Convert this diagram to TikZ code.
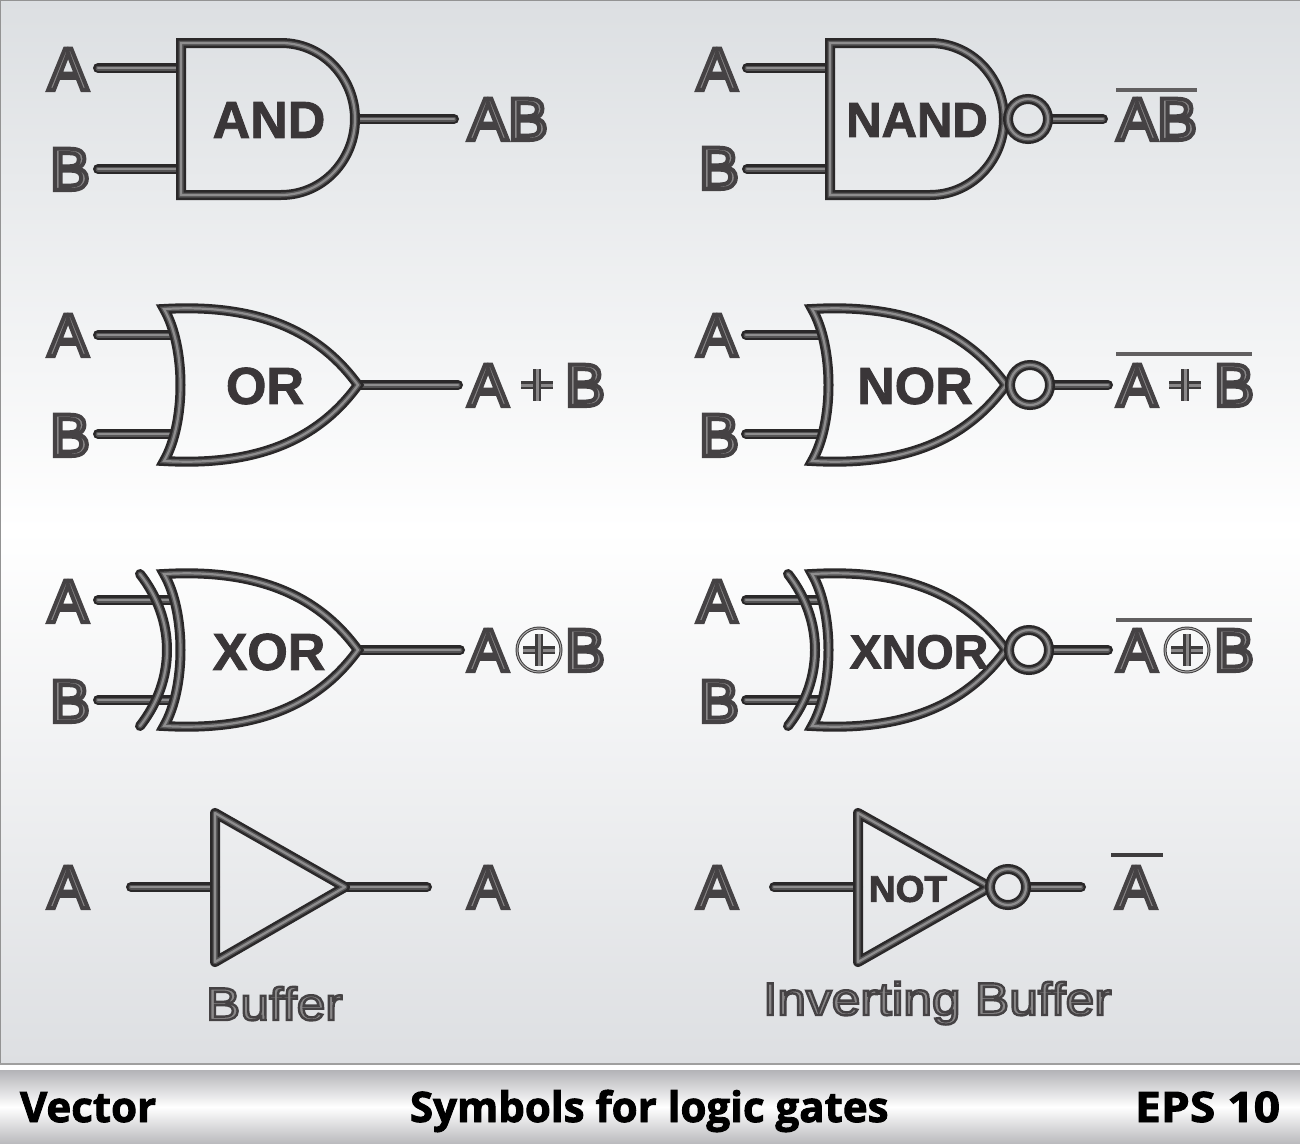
\documentclass[tikz,border=0pt]{standalone}
\usepackage{fontspec}
\setmainfont{Liberation Sans}
\newfontfamily\footfont{Open Sans}
\newfontfamily\footwide[FakeStretch=1.1]{Open Sans}
\newfontfamily\capfont[FakeStretch=1.12]{Liberation Sans}
\definecolor{pipedark}{HTML}{2A2829}
\definecolor{pipemid}{HTML}{555455}
\definecolor{pipelight}{HTML}{8E8D8E}
\definecolor{letterfill}{HTML}{8A8889}
\definecolor{letterline}{HTML}{3E3C3D}
\definecolor{gatetext}{HTML}{3A3638}
\definecolor{panelA}{HTML}{DCDFE2}
\definecolor{panelB}{HTML}{DDDFE2}
\definecolor{footA}{HTML}{B3B3B7}
\definecolor{footB}{HTML}{BBBBBE}
% real text with a stroked outline: #1 outline width in pt
\newcommand{\strokedtext}[2]{\textcolor{letterfill}{\special{pdf:code q 2 Tr #1 w 0.27 0.26 0.265 RG}#2\special{pdf:code Q}}}
\newcommand{\pipeletter}[1]{\strokedtext{4}{#1}}
\newcommand{\thinletter}[1]{\strokedtext{2.4}{#1}}
\newcommand{\heavytext}[1]{\special{pdf:code q 2 Tr 0.9 w}#1\special{pdf:code Q}}
\tikzset{
  x=1pt,y=-1pt,
  pipe/.style={draw=pipedark,line width=10pt,line cap=round,line join=miter,miter limit=12,
    postaction={draw=pipemid,line width=5pt},
    postaction={draw=pipelight,line width=2.2pt}},
  bodypipe/.style={pipe,line cap=butt},
  roundpipe/.style={pipe,line join=round},
  sig/.style={inner sep=0pt,outer sep=0pt,anchor=base west,font=\fontsize{60}{60}\selectfont},
  gatelabel/.style={inner sep=0pt,outer sep=0pt,text=gatetext,font=\fontsize{52}{52}\selectfont\bfseries},
  caption/.style={inner sep=0pt,outer sep=0pt,anchor=base west,font=\fontsize{46}{46}\selectfont\capfont},
  foot/.style={inner sep=0pt,outer sep=0pt,anchor=base west,text=black,font=\fontsize{42}{42}\selectfont\footfont\bfseries},
  footw/.style={foot,font=\fontsize{42}{42}\selectfont\footwide\bfseries},
  overbar/.style={draw=letterfill!70!black,line width=4pt},
  signbar/.style={draw=letterline,line width=8pt,postaction={draw=letterfill,line width=3pt}},
  xorring/.style={draw=letterline,line width=3pt,postaction={draw=letterfill!70!white,line width=1pt}},
}
% AND body: #1 x of the flat side
\newcommand{\andbody}[1]{%
  \draw[bodypipe] (#1+0,43) -- (#1+100,43) .. controls (#1+142,43) and (#1+174,78) .. (#1+174,119)
     .. controls (#1+174,160) and (#1+142,195) .. (#1+100,195) -- (#1+0,195) -- cycle;}
% OR body: #1 x of the centre of the tips, #2 centre y, #3 apex x offset
\newcommand{\orbody}[3]{%
  \draw[bodypipe] (#1,#2-76) .. controls (#1+#3*0.53,#2-82) and (#1+#3*0.82,#2-48) .. (#1+#3,#2)
     .. controls (#1+#3*0.82,#2+48) and (#1+#3*0.53,#2+82) .. (#1,#2+76)
     .. controls (#1+22,#2+38) and (#1+22,#2-38) .. (#1,#2-76) -- cycle;}
\newcommand{\xorarc}[2]{%
  \draw[pipe] (#1,#2-76) .. controls (#1+36,#2-30) and (#1+36,#2+30) .. (#1,#2+76);}
\begin{document}
\begin{tikzpicture}
\useasboundingbox (0,0) rectangle (1300,1143);
% backgrounds
\fill[white] (0,0) rectangle (1300,1143);
\path[top color=panelA,bottom color=white] (0,0) rectangle (1300,530);
\path[top color=white,bottom color=panelB] (0,530) rectangle (1300,1064);
\draw[gray!85,line width=1.5pt] (0.7,1064) -- (0.7,0.7) -- (1300,0.7);
\draw[gray!75,line width=2pt] (0,1064) -- (1300,1064);
\path[top color=footA,bottom color=white] (0,1070) rectangle (1300,1107);
\path[top color=white,bottom color=footB] (0,1107) rectangle (1300,1143);

% ---------- AND ----------
\coordinate (andA) at (98,68); \coordinate (andAi) at (181,68);
\coordinate (andB) at (98,169); \coordinate (andBi) at (181,169);
\coordinate (andO) at (356,119); \coordinate (andOe) at (454,119);
\draw[pipe] (andA) -- (andAi); \draw[pipe] (andB) -- (andBi); \draw[pipe] (andO) -- (andOe);
\andbody{181}
\node[gatelabel] (andT) at (269,120) {\heavytext{AND}};
\node[sig] (andLa) at (48,90) {\pipeletter{A}};
\node[sig] (andLb) at (50,190) {\pipeletter{B}};
\node[sig] (andLo) at (468,140) {\pipeletter{AB}};

% ---------- NAND ----------
\coordinate (nandA) at (747,68); \coordinate (nandAi) at (830,68);
\coordinate (nandB) at (747,169); \coordinate (nandBi) at (830,169);
\coordinate (nandOe) at (1103,119);
\node[circle,minimum size=40pt,inner sep=0pt,outer sep=0pt] (nandC) at (1028,119) {};
\draw[pipe] (nandA) -- (nandAi); \draw[pipe] (nandB) -- (nandBi); \draw[pipe] (nandC.east) -- (nandOe);
\andbody{830}
\draw[pipe] (nandC) circle[radius=20];
\node[gatelabel,font=\fontsize{49}{49}\selectfont\bfseries] (nandT) at (917,120) {\heavytext{NAND}};
\node[sig] (nandLa) at (697,90) {\pipeletter{A}};
\node[sig] (nandLb) at (699,189) {\pipeletter{B}};
\node[sig] (nandLo) at (1117,140) {\pipeletter{AB}};
\coordinate (nandB1) at (1116,90); \coordinate (nandB2) at (1197,90);
\draw[overbar] (nandB1) -- (nandB2);

% ---------- OR ----------
\coordinate (orA) at (98,335); \coordinate (orAi) at (172,335);
\coordinate (orB) at (98,434); \coordinate (orBi) at (172,434);
\coordinate (orO) at (358,385); \coordinate (orOe) at (458,385);
\draw[pipe] (orA) -- (orAi); \draw[pipe] (orB) -- (orBi); \draw[pipe] (orO) -- (orOe);
\orbody{164}{385}{194}
\node[gatelabel] (orT) at (265,386) {\heavytext{OR}};
\node[sig] (orLa) at (48,356) {\pipeletter{A}};
\node[sig] (orLb) at (50,456) {\pipeletter{B}};
\node[sig] (orLo1) at (468,406) {\pipeletter{A}};
\node[sig] (orLo2) at (565,406) {\pipeletter{B}};
\coordinate (orP1) at (521,385); \coordinate (orP2) at (553,385);
\coordinate (orP3) at (537,369); \coordinate (orP4) at (537,401);
\draw[signbar] (orP1) -- (orP2); \draw[signbar] (orP3) -- (orP4);

% ---------- NOR ----------
\coordinate (norA) at (746,335); \coordinate (norAi) at (820,335);
\coordinate (norB) at (746,434); \coordinate (norBi) at (820,434);
\coordinate (norOe) at (1108,385);
\node[circle,minimum size=40pt,inner sep=0pt,outer sep=0pt] (norC) at (1030,385) {};
\draw[pipe] (norA) -- (norAi); \draw[pipe] (norB) -- (norBi); \draw[pipe] (norC.east) -- (norOe);
\orbody{812}{385}{194}
\draw[pipe] (norC) circle[radius=20];
\node[gatelabel] (norT) at (915,386) {\heavytext{NOR}};
\node[sig] (norLa) at (697,356) {\pipeletter{A}};
\node[sig] (norLb) at (699,456) {\pipeletter{B}};
\node[sig] (norLo1) at (1117,406) {\pipeletter{A}};
\node[sig] (norLo2) at (1214,406) {\pipeletter{B}};
\coordinate (norP1) at (1169,385); \coordinate (norP2) at (1201,385);
\coordinate (norP3) at (1185,369); \coordinate (norP4) at (1185,401);
\draw[signbar] (norP1) -- (norP2); \draw[signbar] (norP3) -- (norP4);
\coordinate (norB1) at (1116,354); \coordinate (norB2) at (1252,354);
\draw[overbar] (norB1) -- (norB2);

% ---------- XOR ----------
\coordinate (xorA) at (98,600); \coordinate (xorAi) at (172,600);
\coordinate (xorB) at (98,700); \coordinate (xorBi) at (172,700);
\coordinate (xorO) at (358,650); \coordinate (xorOe) at (460,650);
\draw[pipe] (xorA) -- (xorAi); \draw[pipe] (xorB) -- (xorBi); \draw[pipe] (xorO) -- (xorOe);
\xorarc{140}{650}
\orbody{164}{650}{194}
\node[gatelabel] (xorT) at (269,652) {\heavytext{XOR}};
\node[sig] (xorLa) at (48,622) {\pipeletter{A}};
\node[sig] (xorLb) at (50,722) {\pipeletter{B}};
\node[sig] (xorLo1) at (468,671) {\pipeletter{A}};
\node[sig] (xorLo2) at (565,671) {\pipeletter{B}};
\node[circle,minimum size=46pt,inner sep=0pt,outer sep=0pt] (xorS) at (539,650) {};
\draw[xorring] (xorS) circle[radius=22];
\coordinate (xorP1) at (523,650); \coordinate (xorP2) at (555,650);
\coordinate (xorP3) at (539,634); \coordinate (xorP4) at (539,666);
\draw[signbar] (xorP1) -- (xorP2); \draw[signbar] (xorP3) -- (xorP4);

% ---------- XNOR ----------
\coordinate (xnorA) at (746,600); \coordinate (xnorAi) at (820,600);
\coordinate (xnorB) at (746,700); \coordinate (xnorBi) at (820,700);
\coordinate (xnorOe) at (1108,650);
\node[circle,minimum size=40pt,inner sep=0pt,outer sep=0pt] (xnorC) at (1029,650) {};
\draw[pipe] (xnorA) -- (xnorAi); \draw[pipe] (xnorB) -- (xnorBi); \draw[pipe] (xnorC.east) -- (xnorOe);
\xorarc{788}{650}
\orbody{812}{650}{194}
\draw[pipe] (xnorC) circle[radius=20];
\node[gatelabel,font=\fontsize{48}{48}\selectfont\bfseries] (xnorT) at (919,652) {\heavytext{XNOR}};
\node[sig] (xnorLa) at (697,622) {\pipeletter{A}};
\node[sig] (xnorLb) at (699,722) {\pipeletter{B}};
\node[sig] (xnorLo1) at (1117,671) {\pipeletter{A}};
\node[sig] (xnorLo2) at (1214,671) {\pipeletter{B}};
\node[circle,minimum size=46pt,inner sep=0pt,outer sep=0pt] (xnorS) at (1187,650) {};
\draw[xorring] (xnorS) circle[radius=22];
\coordinate (xnorP1) at (1171,650); \coordinate (xnorP2) at (1203,650);
\coordinate (xnorP3) at (1187,634); \coordinate (xnorP4) at (1187,666);
\draw[signbar] (xnorP1) -- (xnorP2); \draw[signbar] (xnorP3) -- (xnorP4);
\coordinate (xnorB1) at (1116,620); \coordinate (xnorB2) at (1252,620);
\draw[overbar] (xnorB1) -- (xnorB2);

% ---------- Buffer ----------
\coordinate (bufA) at (131,887); \coordinate (bufAi) at (215,887);
\coordinate (bufO) at (345,887); \coordinate (bufOe) at (427,887);
\coordinate (bufT1) at (215,813); \coordinate (bufT2) at (215,962);
\draw[pipe] (bufA) -- (bufAi); \draw[pipe] (bufO) -- (bufOe);
\draw[roundpipe] (bufT1) -- (bufO) -- (bufT2) -- cycle;
\node[sig] (bufLa) at (48,908) {\pipeletter{A}};
\node[sig] (bufLo) at (468,908) {\pipeletter{A}};
\node[caption] (bufC) at (206,1020) {\thinletter{Buffer}};

% ---------- NOT ----------
\coordinate (notA) at (774,887); \coordinate (notAi) at (858,887);
\coordinate (notApex) at (990,887);
\coordinate (notT1) at (858,813); \coordinate (notT2) at (858,962);
\coordinate (notOe) at (1081,887);
\node[circle,minimum size=36pt,inner sep=0pt,outer sep=0pt] (notC) at (1008,887) {};
\draw[pipe] (notA) -- (notAi); \draw[pipe] (notC.east) -- (notOe);
\draw[roundpipe] (notT1) -- (notApex) -- (notT2) -- cycle;
\draw[pipe] (notC) circle[radius=18];
\node[gatelabel,font=\fontsize{37}{37}\selectfont\bfseries] (notT) at (908,889) {\heavytext{NOT}};
\node[sig] (notLa) at (697,908) {\pipeletter{A}};
\node[sig] (notLo) at (1116,908) {\pipeletter{A}};
\coordinate (notB1) at (1111,855); \coordinate (notB2) at (1163,855);
\draw[draw=letterline,line width=4pt] (notB1) -- (notB2);
\node[caption] (notC2) at (763,1015) {\thinletter{Inverting Buffer}};

% ---------- footer ----------
\node[foot] (f1) at (20,1122) {\heavytext{Vector}};
\node[foot] (f2) at (410,1122) {\heavytext{Symbols for logic gates}};
\node[footw] (f3) at (1135,1122) {\heavytext{EPS 10}};
\end{tikzpicture}
\end{document}
